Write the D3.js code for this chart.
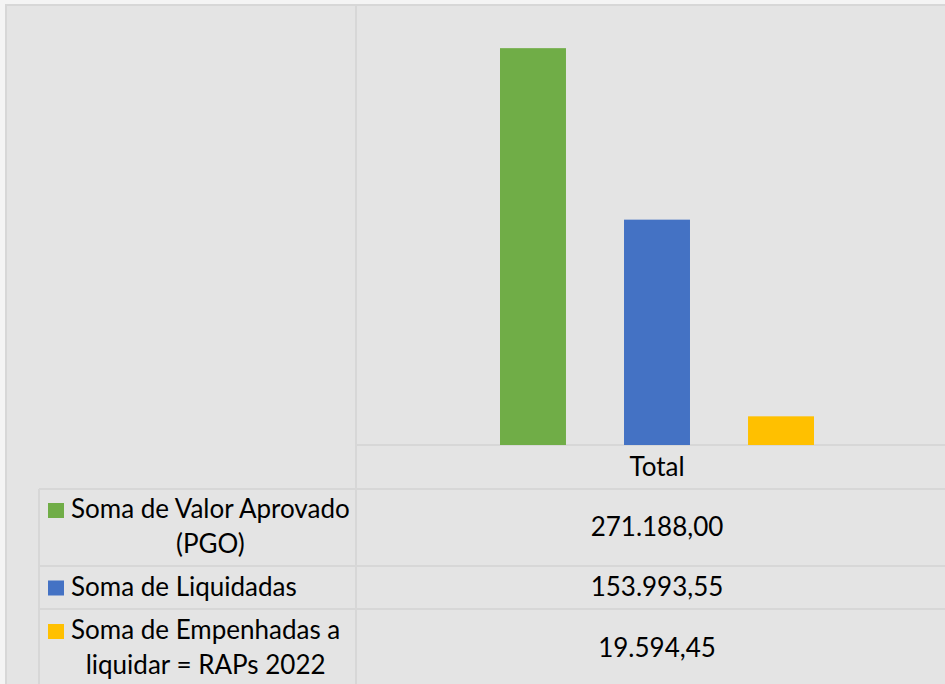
<!DOCTYPE html>
<html>
<head>
<meta charset="utf-8">
<script src="https://cdn.jsdelivr.net/npm/d3@7"></script>
<style>
  body { margin: 0; background: #f4f4f4; }
  svg { display: block; }
  text { font-family: Lato, "Noto Sans", sans-serif; fill: #000; }
</style>
</head>
<body>
<svg id="chart" width="945" height="684"></svg>
<script>
// data
const categories = ['Total']
const seriesNames = [
  'Soma de Valor Aprovado (PGO)',
  'Soma de Liquidadas',
  'Soma de Empenhadas a liquidar = RAPs 2022'
]
const seriesLines = [
  ['Soma de Valor Aprovado', '(PGO)'],
  ['Soma de Liquidadas'],
  ['Soma de Empenhadas a', 'liquidar = RAPs 2022']
]
const seriesValues = [271188.00, 153993.55, 19594.45]
const seriesColors = ['#70ad47', '#4472c4', '#ffc000']

const svg = d3.select('#chart')
const W = 945, H = 684

// layout
const frameLeft = 6, frameTop = 5
const plotLeft = 356, plotRight = 958, plotTop = 6, baseY = 445
const tableLeft = 39
const headerBottom = 489
const rowTops = [489, 566, 609]
const rowBottoms = [566, 609, 688]
const lineColor = '#d7d7d7'
const fontSize = 26

const brl = d3.formatLocale({ decimal: ',', thousands: '.', grouping: [3], currency: ['R$', ''] })
const fmt = brl.format(',.2f')

svg.append('rect')
  .attr('x', frameLeft).attr('y', frameTop)
  .attr('width', W).attr('height', H)
  .attr('fill', '#e4e4e4')
  .attr('stroke', lineColor).attr('stroke-width', 2)

const x0 = d3.scaleBand().domain(categories).range([plotLeft, plotRight])
const y = d3.scaleLinear().domain([0, 300000]).range([baseY, plotTop])

const groupW = 314
const x1 = d3.scaleBand().domain(seriesNames).paddingInner(0.468).paddingOuter(0)

// grid/table lines
const lines = svg.append('g').attr('stroke', lineColor).attr('stroke-width', 2)
lines.append('line').attr('x1', plotLeft).attr('x2', plotLeft).attr('y1', frameTop).attr('y2', H)
lines.append('line').attr('x1', plotLeft).attr('x2', W).attr('y1', baseY).attr('y2', baseY)
lines.append('line').attr('x1', tableLeft).attr('x2', W).attr('y1', headerBottom).attr('y2', headerBottom)
lines.append('line').attr('x1', tableLeft).attr('x2', tableLeft).attr('y1', headerBottom).attr('y2', H)
rowTops.slice(1).forEach(function(t) {
  lines.append('line').attr('x1', tableLeft).attr('x2', W).attr('y1', t).attr('y2', t)
})

// bars
categories.forEach(function(cat) {
  const cx = x0(cat) + x0.bandwidth() / 2
  x1.range([cx - groupW / 2, cx + groupW / 2])
  svg.append('g')
    .selectAll('rect')
    .data(seriesValues)
    .join('rect')
    .attr('x', (d, i) => x1(seriesNames[i]))
    .attr('width', x1.bandwidth())
    .attr('y', d => y(d))
    .attr('height', d => baseY - y(d))
    .attr('fill', (d, i) => seriesColors[i])

  svg.append('text')
    .attr('x', cx).attr('y', (baseY + headerBottom) / 2 + 9)
    .attr('text-anchor', 'middle')
    .style('font-size', fontSize + 'px')
    .text(cat)
})

// table rows
const lineH = 35
const labelX = 71
seriesNames.forEach(function(name, i) {
  const center = (rowTops[i] + rowBottoms[i]) / 2
  const ls = seriesLines[i]
  const firstBase = center + 8 - (ls.length - 1) * lineH / 2

  svg.append('rect')
    .attr('x', 48).attr('y', firstBase - 15)
    .attr('width', 16).attr('height', 15)
    .attr('fill', seriesColors[i])

  const g = svg.append('g')
  const texts = g.selectAll('text')
    .data(ls)
    .join('text')
    .attr('y', (d, j) => firstBase + j * lineH)
    .attr('text-anchor', 'middle')
    .style('font-size', fontSize + 'px')
    .text(d => d)
  const maxW = d3.max(texts.nodes(), n => n.getComputedTextLength())
  texts.attr('x', labelX + maxW / 2)

  svg.append('text')
    .attr('x', x0(categories[0]) + x0.bandwidth() / 2)
    .attr('y', center + 8)
    .attr('text-anchor', 'middle')
    .style('font-size', fontSize + 'px')
    .text(fmt(seriesValues[i]))
})
</script>
</body>
</html>
